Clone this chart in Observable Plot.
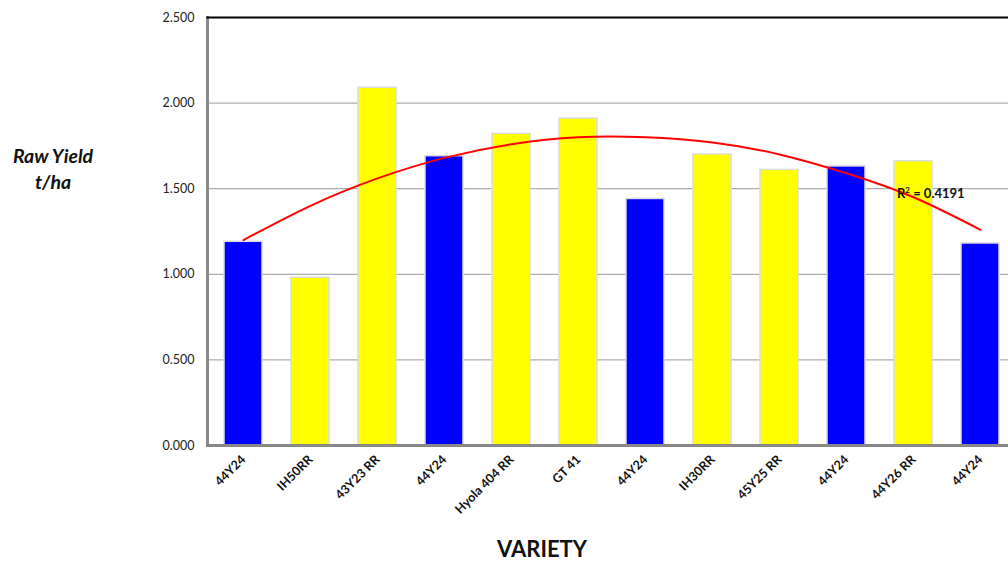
<!DOCTYPE html>
<html>
<head>
<meta charset="utf-8">
<script src="https://cdn.jsdelivr.net/npm/d3@7"></script>
<script src="https://cdn.jsdelivr.net/npm/@observablehq/plot@0.6"></script>
<style>
  html, body { margin: 0; padding: 0; background: #fff; }
  #wrap { position: relative; width: 1008px; height: 566px; overflow: hidden; font-family: Lato, "Open Sans", sans-serif; }
  .ytitle { position: absolute; left: 0; top: 143px; width: 106px; text-align: center; font-weight: bold; font-style: italic; font-size: 19.5px; line-height: 26px; color: #111; }
  .xtitle { position: absolute; left: 442px; top: 536px; width: 200px; text-align: center; font-weight: bold; font-size: 22px; line-height: 26px; color: #111; }
  .r2 { position: absolute; left: 897px; top: 185px; font-weight: bold; font-size: 13px; color: #111; }
</style>
</head>
<body>
<div id="wrap">
  <div class="ytitle">Raw Yield<br>t/ha</div>
  <div class="xtitle">VARIETY</div>
  <div class="r2">R<sup style="font-size:8px">2</sup> = 0.4191</div>
</div>
<script>
const varieties = ["44Y24", "IH50RR", "43Y23 RR", "44Y24", "Hyola 404 RR", "GT 41", "44Y24", "IH30RR", "45Y25 RR", "44Y24", "44Y26 RR", "44Y24"];
const yields = [1.19, 0.98, 2.09, 1.69, 1.82, 1.91, 1.44, 1.70, 1.61, 1.63, 1.66, 1.18];
const groups = ["check", "trial", "trial", "check", "trial", "trial", "check", "trial", "trial", "check", "trial", "check"];
const trend = [1.20, 1.40, 1.56, 1.68, 1.76, 1.80, 1.80, 1.77, 1.70, 1.59, 1.45, 1.26];
const yTicks = [0, 0.5, 1.0, 1.5, 2.0, 2.5];

const data = varieties.map((v, i) => ({i, v, y: yields[i], g: groups[i], t: trend[i]}));

const chart = Plot.plot({
  width: 1008,
  height: 566,
  marginLeft: 207,
  marginRight: 0,
  marginTop: 17,
  marginBottom: 121,
  style: {fontFamily: "Lato, 'Open Sans', sans-serif", background: "transparent", overflow: "visible"},
  x: {type: "band", domain: data.map(d => d.i), range: [207, 1016], paddingInner: 0.44, paddingOuter: 0.22, label: null},
  y: {domain: [0, 2.5], label: null},
  color: {domain: ["check", "trial"], range: ["#0000ff", "#ffff00"]},
  marks: [
    Plot.gridY(yTicks, {stroke: "#999", strokeOpacity: 1, strokeWidth: 1}),
    Plot.barY(data, {x: "i", y: "y", fill: "g", stroke: "#dcdcdc", strokeWidth: 1.5}),
    Plot.ruleY([0], {stroke: "#888", strokeWidth: 3}),
    Plot.frame({anchor: "left", stroke: "#888", strokeWidth: 3}),
    Plot.frame({anchor: "top", stroke: "#000", strokeWidth: 2}),
    Plot.line(data, {x: "i", y: "t", stroke: "#ff0000", strokeWidth: 2, curve: "natural"}),
    Plot.axisY(yTicks, {tickFormat: d3.format(".3f"), tickSize: 0, tickPadding: 13, fontSize: 12.5, fill: "#222", label: null}),
    Plot.axisX({tickFormat: i => varieties[i], tickRotate: -45, tickSize: 0, tickPadding: 12, fontSize: 12.5, fontWeight: "bold", fill: "#111", label: null, dx: 0})
  ]
});
document.getElementById("wrap").prepend(chart);
chart.style.position = "absolute";
chart.style.left = "0";
chart.style.top = "0";
</script>
</body>
</html>
